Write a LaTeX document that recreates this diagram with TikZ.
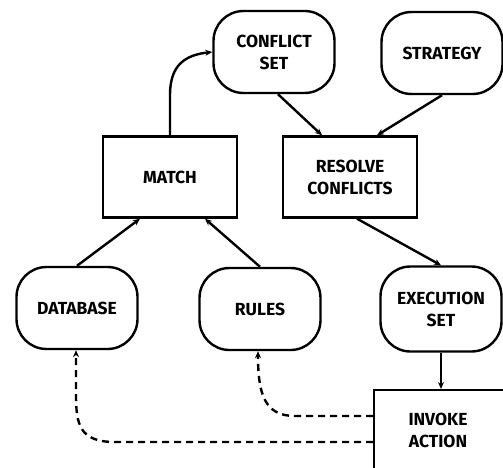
\documentclass[tikz,border=0pt]{standalone}
\usepackage{fontspec}
\setmainfont{Fira Sans}
\usetikzlibrary{arrows.meta,calc}
\begin{document}
\begin{tikzpicture}[x=1pt,y=-1pt,
  line width=2.4pt,
  every node/.style={font=\fontsize{17.5}{22}\selectfont\bfseries, align=center, inner sep=0pt},
  rbox/.style={draw, rounded corners=30pt, minimum width=121pt, minimum height=82pt},
  sbox/.style={draw, minimum width=134pt, minimum height=81pt},
  arr/.style={-{Stealth[length=7pt,width=6pt]}},
  dsh/.style={arr, dash pattern=on 7pt off 5pt}]
\useasboundingbox (0,0) rectangle (503,468);
\clip (0,0) rectangle (503,468);
\node[rbox] (cs) at (274,52) {CONFLICT\\SET};
\node[rbox] (st) at (442,53) {STRATEGY};
\node[sbox] (rc) at (350,177) {RESOLVE\\CONFLICTS};
\node[sbox] (ma) at (170,177) {MATCH};
\node[rbox] (db) at (77,308) {DATABASE};
\node[rbox] (ru) at (260,309) {RULES};
\node[rbox, minimum height=85pt] (es) at (441,309) {EXECUTION\\SET};
\node[draw, minimum width=170pt, minimum height=120pt, anchor=north west] (ia) at (373,389) {};
\node (ial) at (438,430) {INVOKE\\ACTION};
% connectors
\draw[arr] (db.north) -- ($(ma.south)+(-30,0)$);
\draw[arr] (ru.north) -- ($(ma.south)+(35,0)$);
\draw[arr] (ma.north) -- (170,95) .. controls (170,65) and (185,55) .. (cs.west);
\draw[arr] ($(cs.south)+(4,0)$) -- ($(rc.north)+(-28,0)$);
\draw[arr] (st.south) -- ($(rc.north)+(27,0)$);
\draw[arr] ($(rc.south)+(7,0)$) -- (es.north);
\draw[arr] (es.south) -- (es.south |- ia.north);
\draw[dsh] (ia.west |- 0,416) -- (295,416) .. controls (265,416) and (258,395) .. ($(ru.south)+(-2,0)$);
\draw[dsh] (ia.west |- 0,442) -- (115,442) .. controls (80,442) and (76,425) .. (76,395) -- ($(db.south)+(-1,0)$);
\end{tikzpicture}
\end{document}
